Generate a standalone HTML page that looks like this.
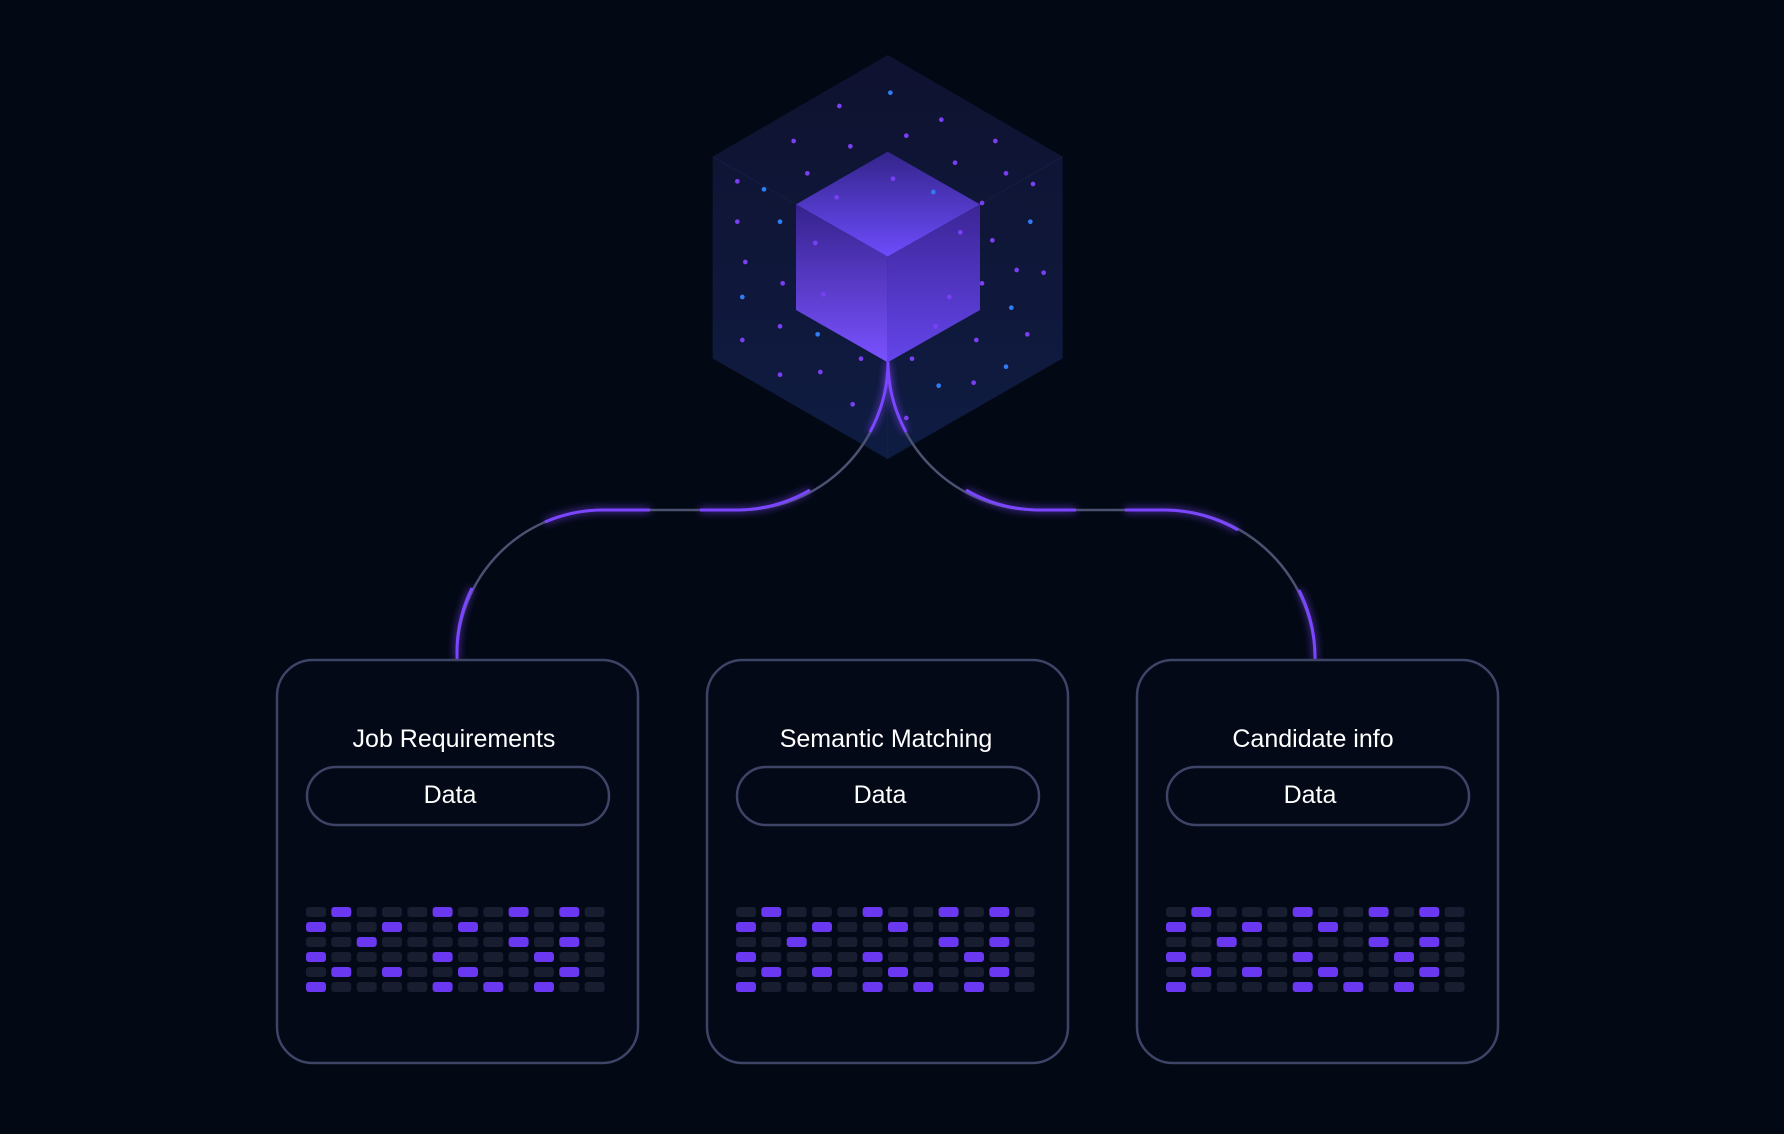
<!DOCTYPE html>
<html><head><meta charset="utf-8"><style>
html,body{margin:0;padding:0;background:#020814;}
body{width:1784px;height:1134px;overflow:hidden;position:relative;font-family:"Liberation Sans",sans-serif;}
svg{position:absolute;left:0;top:0;}
</style></head><body>
<svg width="1784" height="1134" viewBox="0 0 1784 1134" xmlns="http://www.w3.org/2000/svg">
<defs>
<linearGradient id="hex" x1="0" y1="0" x2="0" y2="1"><stop offset="0" stop-color="#0f1230"/><stop offset="1" stop-color="#0f1c42"/></linearGradient>
<linearGradient id="top" x1="0" y1="0" x2="0" y2="1"><stop offset="0" stop-color="#33248a"/><stop offset="1" stop-color="#6d4cfc"/></linearGradient>
<linearGradient id="lf" x1="0" y1="0" x2="0" y2="1"><stop offset="0" stop-color="#35228c"/><stop offset="1" stop-color="#7a52ff"/></linearGradient>
<linearGradient id="rf" x1="0" y1="0" x2="0" y2="1"><stop offset="0" stop-color="#3c2596"/><stop offset="1" stop-color="#6445ea"/></linearGradient>
<filter id="glow" x="-50%" y="-50%" width="200%" height="200%"><feGaussianBlur stdDeviation="4" result="b"/><feMerge><feMergeNode in="b"/><feMergeNode in="SourceGraphic"/></feMerge></filter>
</defs>
<g transform="translate(690,40) scale(0.33333)">
<polygon points="593,45 1118,350 1118,955 593,1257 68,955 68,350" fill="url(#hex)"/>
<g stroke="#1a2350" stroke-width="3" opacity="0.6"><line x1="68" y1="350" x2="318" y2="493"/><line x1="1118" y1="350" x2="870" y2="493"/><line x1="593" y1="1257" x2="593" y2="967"/></g>
<polygon points="593,335 870,493 593,650 318,493" fill="url(#top)"/>
<polygon points="318,493 593,650 593,967 318,810" fill="url(#lf)"/>
<polygon points="593,650 870,493 870,810 593,967" fill="url(#rf)"/>
<g fill="#7a3ff5">
<circle cx="448" cy="198" r="7"/><circle cx="754" cy="239" r="7"/><circle cx="311" cy="303" r="7"/><circle cx="481" cy="319" r="7"/><circle cx="649" cy="287" r="7"/><circle cx="916" cy="303" r="7"/><circle cx="795" cy="368" r="7"/><circle cx="352" cy="400" r="7"/><circle cx="948" cy="400" r="7"/><circle cx="1029" cy="432" r="7"/><circle cx="142" cy="424" r="7"/><circle cx="609" cy="416" r="7"/><circle cx="440" cy="472" r="7"/><circle cx="876" cy="489" r="7"/><circle cx="142" cy="545" r="7"/><circle cx="811" cy="577" r="7"/><circle cx="907" cy="601" r="7"/><circle cx="376" cy="609" r="7"/><circle cx="166" cy="666" r="7"/><circle cx="980" cy="690" r="7"/><circle cx="1061" cy="698" r="7"/><circle cx="278" cy="730" r="7"/><circle cx="876" cy="730" r="7"/><circle cx="400" cy="763" r="7"/><circle cx="778" cy="771" r="7"/><circle cx="270" cy="859" r="7"/><circle cx="737" cy="859" r="7"/><circle cx="157" cy="900" r="7"/><circle cx="859" cy="900" r="7"/><circle cx="1012" cy="883" r="7"/><circle cx="513" cy="956" r="7"/><circle cx="666" cy="956" r="7"/><circle cx="270" cy="1004" r="7"/><circle cx="391" cy="996" r="7"/><circle cx="851" cy="1028" r="7"/><circle cx="488" cy="1093" r="7"/><circle cx="649" cy="1134" r="7"/>
</g>
<g fill="#2f7df5">
<circle cx="601" cy="158" r="7"/><circle cx="222" cy="448" r="7"/><circle cx="730" cy="456" r="7"/><circle cx="270" cy="545" r="7"/><circle cx="1021" cy="545" r="7"/><circle cx="157" cy="771" r="7"/><circle cx="964" cy="803" r="7"/><circle cx="383" cy="883" r="7"/><circle cx="948" cy="980" r="7"/><circle cx="746" cy="1037" r="7"/>
</g>
</g>
<!-- connectors -->
<g fill="none" stroke="#4a5270" stroke-width="2.5">
<path d="M888 362 A148 148 0 0 1 740 510 L603 510 A146 146 0 0 0 457 656 L457 660"/>
<path d="M888 362 A148 148 0 0 0 1036 510 L1165 510 A150 150 0 0 1 1315 660"/>
</g>
<g fill="none" stroke="#7b45ff" stroke-width="3" filter="url(#glow)">
<path d="M888 362 A148 148 0 0 1 870 432"/>
<path d="M888 362 A148 148 0 0 0 906 432"/>
<path d="M810 490 A148 148 0 0 1 740 510 L700 510"/>
<path d="M966 490 A148 148 0 0 0 1036 510 L1076 510"/>
<path d="M650 510 L603 510 A146 146 0 0 0 545 522"/>
<path d="M1125 510 L1165 510 A150 150 0 0 1 1238 530"/>
<path d="M472 588 A146 146 0 0 0 457 656 L457 660"/>
<path d="M1299 590 A150 150 0 0 1 1315 656 L1315 660"/>
</g>
<!-- cards -->
<g fill="#030917" stroke="#3d4466" stroke-width="2.5">
<rect x="277" y="660" width="361" height="403" rx="36"/>
<rect x="707" y="660" width="361" height="403" rx="36"/>
<rect x="1137" y="660" width="361" height="403" rx="36"/>
<rect x="307" y="767" width="302" height="58" rx="29"/>
<rect x="737" y="767" width="302" height="58" rx="29"/>
<rect x="1167" y="767" width="302" height="58" rx="29"/>
</g>
<g fill="#ffffff" font-family="Liberation Sans, sans-serif" font-size="25" text-anchor="middle">
<text x="454" y="747">Job Requirements</text>
<text x="886" y="747">Semantic Matching</text>
<text x="1313" y="747">Candidate info</text>
<text x="450" y="803">Data</text>
<text x="880" y="803">Data</text>
<text x="1310" y="803">Data</text>
</g>
<g id="grids"></g>
</svg>
<script>
var P=["010001001010","100100100000","001000001010","100001000100","010100100010","100001010100"];
var g=document.getElementById('grids'),s='';
[0,430,860].forEach(function(o){for(var r=0;r<6;r++)for(var c=0;c<12;c++){s+='<rect x="'+(306+o+c*25.33).toFixed(1)+'" y="'+(907+r*15)+'" width="20" height="10" rx="3" fill="'+(P[r][c]=='1'?'#6a38f0':'#181d30')+'"/>';}});
g.innerHTML=s;
</script>
</body></html>
